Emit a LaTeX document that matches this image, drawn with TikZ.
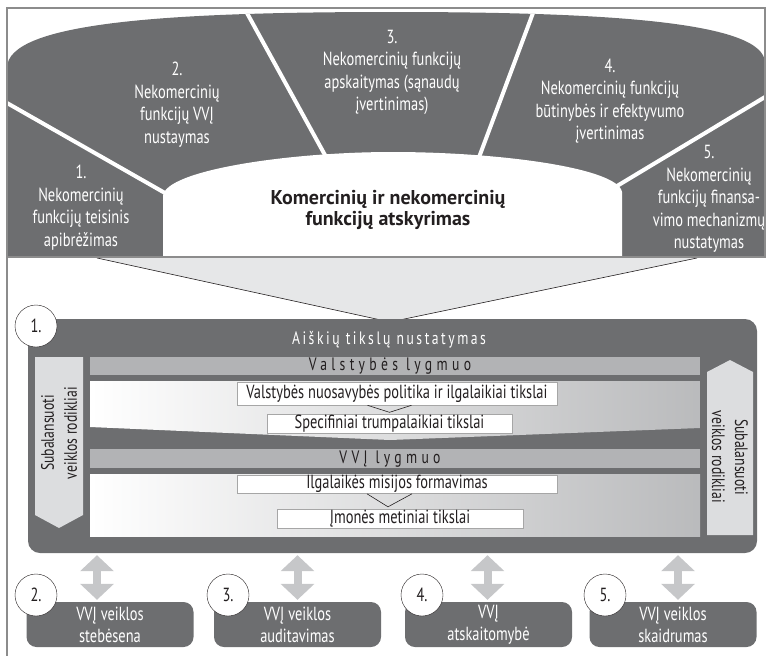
\documentclass[tikz,border=0pt]{standalone}
\usepackage{fontspec}
\setmainfont{PT Sans}[FakeStretch=0.76]
\newfontfamily\titlefont{PT Sans}
\newfontfamily\headfont{PT Sans}[FakeStretch=0.76,LetterSpace=14]
\newfontfamily\bandfont{PT Sans}[FakeStretch=0.76,LetterSpace=24]
\usetikzlibrary{arrows.meta}
\usetikzlibrary{calc}
\definecolor{vvidark}{HTML}{6D6E70}
\definecolor{vviband}{HTML}{B2B3B5}
\definecolor{vviside}{HTML}{DCDDDF}
\definecolor{vvifunnel}{HTML}{E6E7E8}
\definecolor{vviarrow}{HTML}{C6C7C9}
\definecolor{vviframe}{HTML}{8C8C8C}
\definecolor{vviink}{HTML}{231F20}
\tikzset{
  segtext/.style = {text=white, align=center, font=\fontsize{19}{22.5}\selectfont},
  numcirc/.style = {circle, draw=vviink, fill=white, minimum size=42pt, inner sep=0pt,
                    text=vviink, font=\fontsize{19}{20}\selectfont},
  goalbox/.style = {rectangle, draw=gray!70, fill=white, inner sep=0pt, text=vviink,
                    text height=13pt, text depth=4pt, font=\fontsize{19}{20}\selectfont},
  bottombox/.style = {rectangle, rounded corners=10pt, fill=vvidark, text=white, align=center,
                      minimum width=167pt, minimum height=45pt, inner sep=0pt,
                      font=\fontsize{19}{22}\selectfont},
  sidetext/.style = {text=vviink, align=center, font=\fontsize{18}{23}\selectfont},
  bandtext/.style = {text=vviink, font=\bandfont\fontsize{18}{18}\selectfont},
  sep/.style = {draw=white, line width=4pt},
  chev/.style = {draw=vviink, line width=0.6pt},
  dblarrow/.style = {draw=vviarrow, line width=8pt, shorten <=2pt, shorten >=2pt,
                     {Triangle[width=33pt,length=16pt]}-{Triangle[width=33pt,length=16pt]}}
}

\begin{document}
\begin{tikzpicture}[x=1pt,y=-1pt]
    \useasboundingbox (0,0) rectangle (770,656);

    % Upper part outlines
    \newcommand{\pouter}{(7,257) -- (7,68) .. controls (7,22) and (170,12) .. (392,12)
        .. controls (610,12) and (765,22) .. (765,63) -- (765,257) -- cycle}
    \newcommand{\pcenter}{(163,258) -- (163,196) .. controls (165,170) and (290,152) .. (392,152)
        .. controls (500,152) and (618,168) .. (622,192) -- (622,258) -- cycle}

    \fill[vvidark] \pouter;
    \begin{scope}
        \clip \pouter;
        \draw[sep] (0,99) -- (172,197);
        \draw[sep] (242.6,5) -- (327.7,160);
        \draw[sep] (536,5) -- (478,160);
        \draw[sep] (775,91) -- (612,189);
    \end{scope}
    \fill[white] \pcenter;

    \node[segtext] (s1) at (81,207.5) {1.\\Nekomercinių\\funkcijų teisinis\\apibrėžimas};
    \node[segtext] (s2) at (177,104.5) {2.\\Nekomercinių\\funkcijų VVĮ\\nustaymas};
    \node[segtext] (s3) at (392,72.5) {3.\\Nekomercinių funkcijų\\apskaitymas (sąnaudų\\įvertinimas)};
    \node[segtext] (s4) at (610,101) {4.\\Nekomercinių funkcijų\\būtinybės ir efektyvumo\\įvertinimas};
    \node[segtext] (s5) at (709,199) {5.\\Nekomercinių\\funkcijų finansa-\\vimo mechanizmų\\nustatymas};
    \node[text=vviink, align=center, font=\titlefont\bfseries\fontsize{20}{21}\selectfont]
        (sep) at (388,210) {Komercinių ir nekomercinių\\funkcijų atskyrimas};

    % Funnel
    \fill[vvifunnel] (97,258) -- (697,258) -- (390,322) -- cycle;
    \draw[vviink, line width=0.6pt] (97,258) -- (390,322) -- (697,258);

    % Goals block
    \node[rectangle, rounded corners=12pt, fill=vvidark, minimum width=729pt, minimum height=234pt]
        (goals) at (392.5,436) {};
    \node[text=white, font=\headfont\fontsize{18}{18}\selectfont] (head) at (389,340) {Aiškių tikslų nustatymas};

    \fill[vviside] (35,357) -- (83,357) -- (83,515) -- (59,528) -- (35,515) -- cycle;
    \fill[vviside] (707,372) -- (730,360) -- (753,372) -- (753,535) -- (707,535) -- cycle;
    \node[sidetext, rotate=90] (ls) at (59,433) {Subalansuoti\\veiklos rodikliai};
    \node[sidetext, rotate=-90] (rs) at (730,457) {Subalansuoti\\veiklos rodikliai};

    \fill[vviband] (90,357) rectangle (700,375);
    \shade[left color=white, right color=vviband!90] (90,381) -- (700,381) -- (700,428) -- (390,440) -- (90,427) -- cycle;
    \fill[vviband] (90,449) rectangle (700,468);
    \shade[left color=white, right color=vviband!90] (90,474) rectangle (700,536);
    \node[bandtext] (lv1) at (390,366) {Valstybės lygmuo};
    \node[bandtext] (lv2) at (390,459) {VVĮ lygmuo};

    \node[goalbox, minimum width=320pt, minimum height=23pt] (pol) at (397,393.5) {Valstybės nuosavybės politika ir ilgalaikiai tikslai};
    \node[goalbox, minimum width=245pt, minimum height=19pt] (spec) at (389.5,424) {Specifiniai trumpalaikiai tikslai};
    \node[goalbox, minimum width=320pt, minimum height=18pt] (mis) at (397,484) {Ilgalaikės misijos formavimas};
    \node[goalbox, minimum width=246pt, minimum height=19pt] (met) at (400,518.5) {Įmonės metiniai tikslai};
    \draw[chev] ($(spec.north)+(-22,-9)$) -- ($(spec.north)+(0,-2)$) -- ($(spec.north)+(22,-9)$);
    \draw[chev] ($(met.north)+(-33,-15)$) -- ($(met.north)+(-12,-2)$) -- ($(met.north)+(12,-15)$);

    \node[numcirc] (c1) at (36,326) {1.};

    % Bottom blocks
    \node[bottombox] (b2) at (110,624.5) {VVĮ veiklos\\stebėsena};
    \node[bottombox] (b3) at (297.5,624.5) {VVĮ veiklos\\auditavimas};
    \node[bottombox] (b4) at (488.5,624.5) {VVĮ\\atskaitomybė};
    \node[bottombox] (b5) at (673,624.5) {VVĮ veiklos\\skaidrumas};

    \coordinate (a2) at ([xshift=-13pt]b2.north);
    \coordinate (a3) at (b3.north);
    \coordinate (a4) at ([xshift=-1pt]b4.north);
    \coordinate (a5) at ([xshift=5pt]b5.north);
    \foreach \n in {2,3,4,5}
        \draw[dblarrow] (a\n |- goals.south) -- (a\n);

    \node[numcirc] (c2) at (36,595) {2.};
    \node[numcirc] (c3) at (228,595) {3.};
    \node[numcirc] (c4) at (422,595) {4.};
    \node[numcirc] (c5) at (605,595) {5.};

    % Frame
    \draw[vviframe, line width=1.5pt] (7,8) rectangle (765,257);
    \draw[vviframe, line width=1.5pt] (7,257) -- (7,656);
\end{tikzpicture}
\end{document}
